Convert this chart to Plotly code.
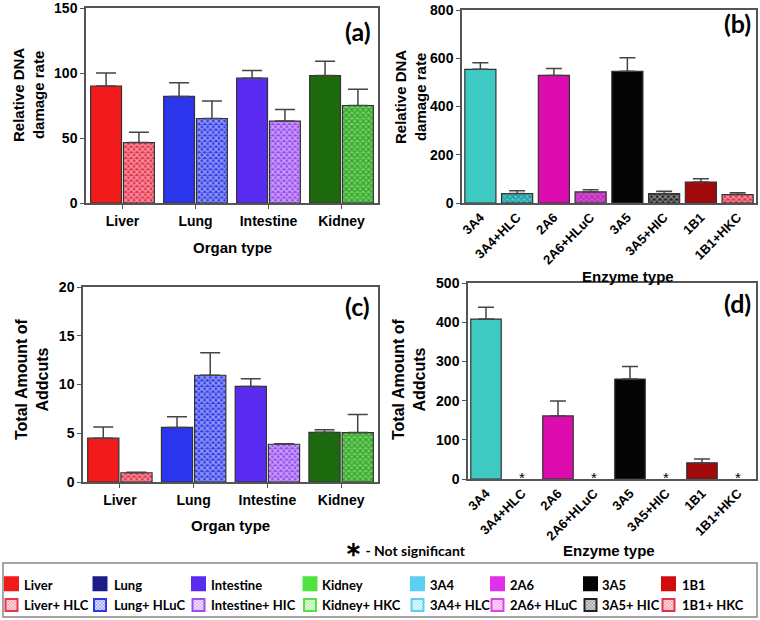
import plotly.graph_objects as go

W, H = 760, 620

# ---------------- data ----------------
organs = ["Liver", "Lung", "Intestine", "Kidney"]
a_solid = [90, 82, 96, 98]
a_solid_err = [10, 10.5, 6, 11]
a_hatch = [46.5, 65, 63, 75]
a_hatch_err = [8, 13.5, 9, 12.5]

enzymes = ["3A4", "3A4+HLC", "2A6", "2A6+HLuC", "3A5", "3A5+HIC", "1B1", "1B1+HKC"]
b_vals = [554, 39, 529, 46, 546, 39, 87, 35]
b_err = [27, 12, 29, 9, 56, 10, 14, 8]

c_solid = [4.5, 5.6, 9.8, 5.1]
c_solid_err = [1.15, 1.1, 0.8, 0.25]
c_hatch = [0.95, 10.95, 3.87, 5.07]
c_hatch_err = [0.05, 2.3, 0.05, 1.85]

d_vals = [408, None, 161, None, 255, None, 41, None]
d_err = [30, None, 38, None, 32, None, 10, None]
d_not_significant = [False, True, False, True, False, True, False, True]

legend_solid_labels = ["Liver", "Lung", "Intestine", "Kidney", "3A4", "2A6", "3A5", "1B1"]
legend_hatch_labels = ["Liver+ HLC", "Lung+ HLuC", "Intestine+ HIC", "Kidney+ HKC",
                       "3A4+ HLC", "2A6+ HLuC", "3A5+ HIC", "1B1+ HKC"]

# ---------------- styles ----------------
organ_solid_colors = ["#f21a1a", "#2a35ec", "#5a2cf2", "#1d6a0e"]
organ_hatch_colors = ["#e8344e", "#3440ea", "#9a4ef0", "#58e048"]
enz_colors = ["#3ec9c2", "#38d2d8", "#dc0cae", "#ee3cec", "#050505", "#202020", "#a00a0a", "#e2304a"]
enz_hatched = [False, True, False, True, False, True, False, True]

legend_solid_colors = ["#f21a1a", "#1c1c88", "#5a2cf2", "#4ee43c", "#5ad0f2", "#e030ea", "#050505", "#d00c0c"]
legend_hatch_colors = ["#e8344e", "#2a38e8", "#9a4ef0", "#58e048", "#58d0f0", "#e040ea", "#202020", "#e2304a"]
legend_swatch_cx = [11.5, 100, 198.5, 310, 417.5, 497.5, 590.5, 668.5]
legend_text_x = [22, 112, 209, 320, 428, 508, 600, 680]
legend_row_y = [585, 605]

OUT = "#333333"
ERR = "#444444"
PAT_SIZE = 4
PAT_SOL = 0.55
SANS = "Liberation Sans"
LATO = "Lato"


def px_x(p):
    return p / W


def px_y(p):
    return 1 - p / H


fig = go.Figure()


def err(arr, w=10):
    return dict(type="data", symmetric=False, array=arr,
                arrayminus=[0 if a is not None else None for a in arr],
                color=ERR, thickness=1.5, width=w)


# (a)
fig.add_trace(go.Bar(x=organs, y=a_solid, xaxis="x", yaxis="y", showlegend=False,
                     marker=dict(color=organ_solid_colors, line=dict(color=OUT, width=1.2)),
                     error_y=err(a_solid_err)))
fig.add_trace(go.Bar(x=organs, y=a_hatch, xaxis="x", yaxis="y", showlegend=False,
                     marker=dict(color=organ_hatch_colors, line=dict(color=OUT, width=1.2),
                                 pattern=dict(shape="x", size=PAT_SIZE, solidity=PAT_SOL,
                                              fgcolor=organ_hatch_colors, bgcolor="white")),
                     error_y=err(a_hatch_err)))

# (b)
fig.add_trace(go.Bar(x=enzymes, y=b_vals, xaxis="x2", yaxis="y2", showlegend=False,
                     marker=dict(color=enz_colors, line=dict(color=OUT, width=1.2),
                                 pattern=dict(shape=["x" if h else "" for h in enz_hatched],
                                              size=PAT_SIZE, solidity=PAT_SOL,
                                              fgcolor=enz_colors,
                                              bgcolor=["white" if h else c for h, c in zip(enz_hatched, enz_colors)])),
                     error_y=err(b_err, 8)))

# (c)
fig.add_trace(go.Bar(x=organs, y=c_solid, xaxis="x3", yaxis="y3", showlegend=False,
                     marker=dict(color=organ_solid_colors, line=dict(color=OUT, width=1.2)),
                     error_y=err(c_solid_err)))
fig.add_trace(go.Bar(x=organs, y=c_hatch, xaxis="x3", yaxis="y3", showlegend=False,
                     marker=dict(color=organ_hatch_colors, line=dict(color=OUT, width=1.2),
                                 pattern=dict(shape="x", size=PAT_SIZE, solidity=PAT_SOL,
                                              fgcolor=organ_hatch_colors, bgcolor="white")),
                     error_y=err(c_hatch_err)))

# (d)
fig.add_trace(go.Bar(x=enzymes, y=d_vals, xaxis="x4", yaxis="y4", showlegend=False,
                     marker=dict(color=enz_colors, line=dict(color=OUT, width=1.2)),
                     error_y=err(d_err, 8)))
star_x = [e for e, ns in zip(enzymes, d_not_significant) if ns]
fig.add_trace(go.Scatter(x=star_x, y=[0] * len(star_x), xaxis="x4", yaxis="y4", showlegend=False,
                         mode="text", text=["*"] * len(star_x), textposition="middle center",
                         textfont=dict(family=SANS, size=15, color="black")))

# legend swatches (8 small legends, one per column) on a hidden axis; labels as annotations
for i in range(len(legend_solid_labels)):
    lg = "legend" if i == 0 else f"legend{i + 1}"
    c1, c2 = legend_solid_colors[i], legend_hatch_colors[i]
    fig.add_trace(go.Bar(x=[None], y=[None], name=" ", legend=lg, showlegend=True,
                         legendgroup=f"g{i}a", xaxis="x5", yaxis="y5",
                         marker=dict(color=c1, line=dict(color=c1, width=3))))
    fig.add_trace(go.Bar(x=[None], y=[None], name=" ", legend=lg, showlegend=True,
                         legendgroup=f"g{i}b", xaxis="x5", yaxis="y5",
                         marker=dict(color=c2, line=dict(color=c2, width=2),
                                     pattern=dict(shape="x", size=3, solidity=0.6,
                                                  fgcolor=c2, bgcolor="white"))))

tickfont = dict(family=SANS, size=14, color="black", weight="bold")
axis_common = dict(showline=True, mirror=True, linecolor="#555555", linewidth=1.5,
                   showgrid=False, zeroline=False, ticks="outside", ticklen=4,
                   tickcolor="#555555", tickfont=tickfont, ticklabeloverflow="allow")
rot_axis = {**axis_common, "tickfont": dict(family=SANS, size=13, color="black", weight="bold"),
            "ticks": "", "tickangle": -45}

layout = dict(
    width=W, height=H, margin=dict(l=0, r=0, t=0, b=0, autoexpand=False),
    paper_bgcolor="white", plot_bgcolor="white",
    barmode="group", bargap=0.1, bargroupgap=0.06,
    xaxis=dict(domain=[px_x(86), px_x(378)], anchor="y", **axis_common),
    yaxis=dict(domain=[px_y(203), px_y(8)], anchor="x", range=[0, 150], dtick=50, **axis_common),
    xaxis2=dict(domain=[px_x(462), px_x(756)], anchor="y2", **rot_axis),
    yaxis2=dict(domain=[px_y(203), px_y(10)], anchor="x2", range=[0, 800], dtick=200, **axis_common),
    xaxis3=dict(domain=[px_x(83), px_x(378)], anchor="y3", **axis_common),
    yaxis3=dict(domain=[px_y(482), px_y(287)], anchor="x3", range=[0, 20], dtick=5, **axis_common),
    xaxis4=dict(domain=[px_x(468), px_x(756)], anchor="y4", **rot_axis),
    yaxis4=dict(domain=[px_y(479), px_y(283)], anchor="x4", range=[0, 500], dtick=100, **axis_common),
    xaxis5=dict(domain=[0, 0.01], anchor="y5", visible=False),
    yaxis5=dict(domain=[0, 0.01], anchor="x5", visible=False),
)

for i, cx in enumerate(legend_swatch_cx):
    key = "legend" if i == 0 else f"legend{i + 1}"
    layout[key] = dict(x=px_x(cx - 20), y=px_y(569), xanchor="left", yanchor="top",
                       orientation="v", bgcolor="rgba(0,0,0,0)", borderwidth=0,
                       tracegroupgap=2, itemclick=False, itemdoubleclick=False,
                       font=dict(family=LATO, size=12.5, color="black", weight="bold"))

fig.update_layout(**layout)

# legend frame
fig.add_shape(type="rect", xref="paper", yref="paper", x0=px_x(3), x1=px_x(757),
              y0=px_y(617), y1=px_y(563), line=dict(color="#888888", width=1.5))

anns = []


def ann(text, x, y, size, family=SANS, angle=0, xanchor="center"):
    anns.append(dict(text=text, x=px_x(x), y=px_y(y), xref="paper", yref="paper",
                     showarrow=False, textangle=angle, xanchor=xanchor, yanchor="middle",
                     font=dict(family=family, size=size, color="black", weight="bold")))


ann("Relative DNA<br>damage rate", 29, 95, 15, angle=-90)
ann("Relative DNA<br>damage rate", 410, 97, 15, angle=-90)
ann("Total Amount of<br>Addcuts", 32, 379, 16, angle=-90)
ann("Total Amount of<br>Addcuts", 409, 379, 16, angle=-90)
ann("Organ type", 232, 247, 15)
ann("Enzyme type", 628, 276, 15)
ann("Organ type", 230, 525, 15)
ann("Enzyme type", 609, 550, 15)
ann("(a)", 373, 31, 25, family=LATO, xanchor="right")
ann("(b)", 753, 23, 25, family=LATO, xanchor="right")
ann("(c)", 372, 306, 25, family=LATO, xanchor="right")
ann("(d)", 753, 303, 25, family=LATO, xanchor="right")
ann("<span style='font-size:20px'>∗</span> - Not significant", 343, 548, 14, family=LATO, xanchor="left")

for tx, l1, l2 in zip(legend_text_x, legend_solid_labels, legend_hatch_labels):
    ann(l1, tx, legend_row_y[0], 13, family=LATO, xanchor="left")
    ann(l2, tx, legend_row_y[1], 13, family=LATO, xanchor="left")

fig.update_layout(annotations=anns)
fig.write_html("out.html", config={"displayModeBar": False},
               post_script="document.body.style.margin='0px';")
